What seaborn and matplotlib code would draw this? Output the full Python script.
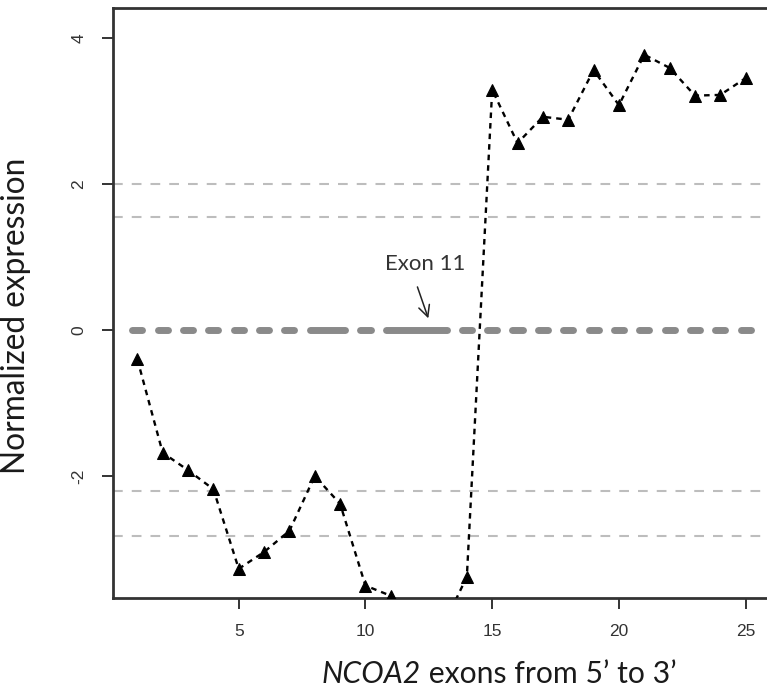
import numpy as np
import pandas as pd
import seaborn as sns
import matplotlib.pyplot as plt

exons = list(range(1, 26))
expression = [-0.40, -1.68, -1.92, -2.18, -3.27, -3.04, -2.75, -2.00, -2.38, -3.50,
              -3.64, -4.40, -4.10, -3.38, 3.29, 2.56, 2.92, 2.88, 3.56, 3.08,
              3.77, 3.59, 3.21, 3.22, 3.45]
# exons drawn as one joined piece on the zero line
zero_groups = [[1], [2], [3], [4], [5], [6], [7], [8, 9], [10], [11, 12, 13],
               [14], [15], [16], [17], [18], [19], [20], [21], [22], [23], [24], [25]]
threshold_lines = [2.0, 1.55, -2.2, -2.82]
x_ticks = [5, 10, 15, 20, 25]
y_ticks = [-2, 0, 2, 4]

df = pd.DataFrame({'exon': exons, 'expr': expression})

sns.set_style('ticks')
plt.rcParams['font.family'] = ['Liberation Sans', 'DejaVu Sans']
plt.rcParams['lines.scale_dashes'] = False
plt.rcParams['axes.unicode_minus'] = False
label_font = ['Lato', 'DejaVu Sans']

fig = plt.figure(figsize=(7.67, 6.94), dpi=100)
ax = fig.add_axes([113 / 767, 96 / 694, 657 / 767, 590 / 694])

for y in threshold_lines:
    ax.axhline(y, color='#bdbdbd', lw=1.5, dashes=(7, 6.5), zorder=1)

for g in zero_groups:
    ax.plot([g[0] - 0.2, g[-1] + 0.2], [0, 0], color='#8a8a8a', lw=5,
            solid_capstyle='round', zorder=2)

sns.lineplot(data=df, x='exon', y='expr', ax=ax, color='black', lw=1.7,
             marker='^', markersize=9, markeredgecolor='black',
             dashes=False, zorder=3)
ax.lines[-1].set_dashes((4, 3.6))

# exon 11 label and arrow
ax.text(12.36, 0.9, 'Exon 11', ha='center', va='center', fontsize=16,
        family=label_font, color='#333333')
ax.annotate('', xy=(12.48, 0.16), xytext=(12.05, 0.59),
            arrowprops=dict(arrowstyle='->', color='#222222', lw=1.1,
                            shrinkA=0, shrinkB=0, mutation_scale=20))

ax.set_xlim(0.04, 25.96)
ax.set_ylim(-3.67, 4.41)
ax.set_xticks(x_ticks)
ax.set_yticks(y_ticks)
ax.tick_params(axis='both', length=8, width=1.4, color='#333333',
               labelsize=12.5, pad=11, labelcolor='#333333')
for lab in ax.get_yticklabels():
    lab.set_rotation(90)
    lab.set_va('center')

for s in ax.spines.values():
    s.set_linewidth(2)
    s.set_color('#333333')

ax.set_xlabel('')
ax.set_ylabel('')
base_y = 1 - 683 / 694
gene = fig.text(0.4, base_y, 'NCOA2', ha='left', va='baseline', fontsize=20,
                style='italic', family=label_font, color='#1a1a1a')
rest = fig.text(0.5, base_y, ' exons from 5\u2019 to 3\u2019', ha='left', va='baseline',
                fontsize=20, family=label_font, color='#1a1a1a')
ylab = fig.text(25 / 767, 1 - 316 / 694, 'Normalized expression', rotation=90,
                rotation_mode='anchor', ha='center', va='baseline', fontsize=20,
                family=label_font, color='#1a1a1a')

# size the axis titles to the span they take in the original
fig.canvas.draw()
rend = fig.canvas.get_renderer()
total = gene.get_window_extent(rend).width + rest.get_window_extent(rend).width
fs = 20 * 355 / total
gene.set_fontsize(fs)
rest.set_fontsize(fs)
h = ylab.get_window_extent(rend).height
ylab.set_fontsize(20 * 317 / h)
fig.canvas.draw()
w1 = gene.get_window_extent(rend).width
w2 = rest.get_window_extent(rend).width
left = 499 - (w1 + w2) / 2
gene.set_x(left / 767)
rest.set_x((left + w1) / 767)

fig.savefig('out.png', dpi=100)
